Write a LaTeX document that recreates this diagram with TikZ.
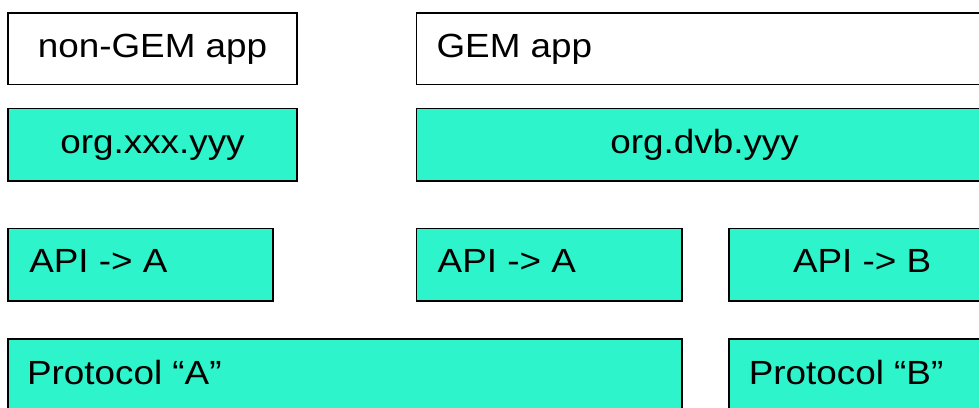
\documentclass[tikz,border=0pt]{standalone}
\usepackage{fontspec}
\setmainfont{Liberation Sans}[FakeStretch=1.1]
\definecolor{aqua}{RGB}{46,244,204}
\newcommand{\bigfont}{\fontsize{33.5}{40}\selectfont}
\begin{document}
\begin{tikzpicture}[x=1pt,y=-1pt,
  box/.style={draw=black, line width=1.8pt, inner sep=0pt, outer sep=0pt, anchor=north west, fill=white},
  cyanbox/.style={box, fill=aqua},
  lbl/.style={inner sep=0pt, outer sep=0pt, font=\bigfont, text=black}]
\useasboundingbox (0,0) rectangle (979,407);
\clip (0,0) rectangle (979,407);
% row 1
\node[box, minimum width=289pt, minimum height=71.5pt] (nongem) at (8,13) {};
\node[box, minimum width=600pt, minimum height=71.5pt] (gem) at (416.5,13) {};
% row 2
\node[cyanbox, minimum width=289pt, minimum height=72.5pt] (orgxxx) at (8,108.5) {};
\node[cyanbox, minimum width=600pt, minimum height=72.5pt] (orgdvb) at (416.5,108.5) {};
% row 3
\node[cyanbox, minimum width=265pt, minimum height=72.5pt] (apia1) at (8,228.5) {};
\node[cyanbox, minimum width=265.5pt, minimum height=72.5pt] (apia2) at (416.5,228.5) {};
\node[cyanbox, minimum width=300pt, minimum height=72.5pt] (apib) at (729,228.5) {};
% row 4
\node[cyanbox, minimum width=674pt, minimum height=100pt] (protoa) at (8,339) {};
\node[cyanbox, minimum width=300pt, minimum height=100pt] (protob) at (729,339) {};
% labels
\node[lbl, anchor=base] (tnongem) at (152.5,57.8) {non-GEM app};
\node[lbl, anchor=base west] (tgem) at (436.5,57.2) {GEM app};
\node[lbl, anchor=base] (torgxxx) at (152.5,153.3) {org.xxx.yyy};
\node[lbl, anchor=base west] (torgdvb) at (610.4,153) {org.dvb.yyy};
\node[lbl, anchor=base west] (tapia1) at (29.3,272.3) {API -> A};
\node[lbl, anchor=base west] (tapia2) at (437.7,272.3) {API -> A};
\node[lbl, anchor=base west] (tapib) at (793,272) {API -> B};
\node[lbl, anchor=base west] (tprotoa) at (27.1,384.8) {Protocol “A”};
\node[lbl, anchor=base west] (tprotob) at (748.8,384.3) {Protocol “B”};
\end{tikzpicture}
\end{document}
